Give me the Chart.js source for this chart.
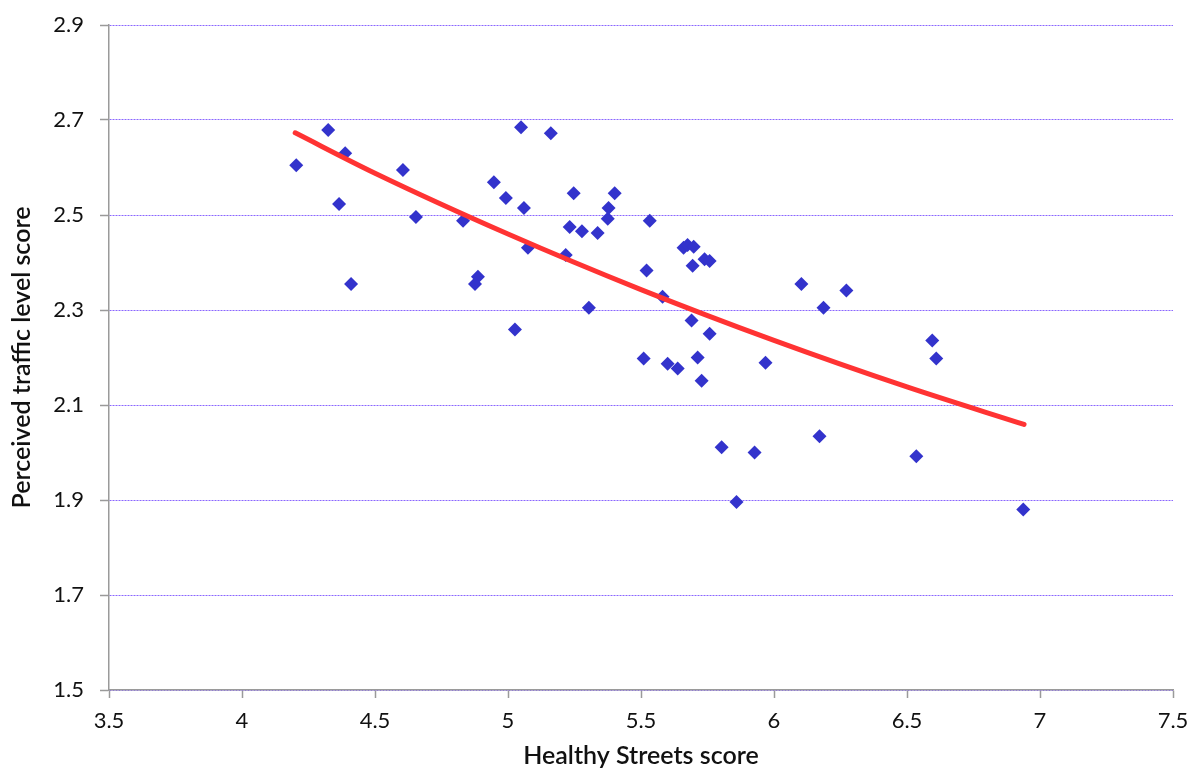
<!DOCTYPE html>
<html>
<head>
<meta charset="utf-8">
<script src="https://cdn.jsdelivr.net/npm/chart.js@4/dist/chart.umd.min.js"></script>
<style>
  body { margin: 0; background: #fff; }
  #wrap { width: 1192px; height: 771px; }
</style>
</head>
<body>
<div id="wrap"><canvas id="chart" width="1192" height="771"></canvas></div>
<script>
// Healthy Streets score (x) vs perceived traffic level score (y)
const streetScores = [
  4.204, 4.324, 4.388, 4.365, 4.410, 4.605, 4.654, 4.831, 4.947, 4.887,
  4.876, 4.992, 5.049, 5.060, 5.075, 5.026, 5.161, 5.217, 5.232, 5.247,
  5.278, 5.304, 5.337, 5.375, 5.378, 5.401, 5.533, 5.521, 5.510, 5.581,
  5.600, 5.638, 5.660, 5.675, 5.698, 5.694, 5.690, 5.713, 5.728, 5.739,
  5.758, 5.758, 5.803, 5.859, 5.927, 5.968, 6.103, 6.171, 6.186, 6.272,
  6.595, 6.610, 6.535, 6.937
];
const trafficScores = [
  2.605, 2.679, 2.630, 2.523, 2.355, 2.595, 2.496, 2.488, 2.569, 2.370,
  2.355, 2.536, 2.685, 2.515, 2.431, 2.259, 2.672, 2.416, 2.475, 2.546,
  2.466, 2.305, 2.462, 2.492, 2.515, 2.546, 2.488, 2.383, 2.198, 2.328,
  2.187, 2.177, 2.431, 2.437, 2.433, 2.393, 2.278, 2.200, 2.151, 2.407,
  2.403, 2.250, 2.011, 1.896, 2.000, 2.189, 2.355, 2.034, 2.305, 2.341,
  2.236, 2.198, 1.992, 1.880
];

// trendline
const trendX = [4.2, 4.5, 5.0, 5.5, 6.0, 6.5, 6.94];
const trendY = [2.673, 2.588, 2.460, 2.343, 2.236, 2.138, 2.059];

const xTicks = [3.5, 4, 4.5, 5, 5.5, 6, 6.5, 7, 7.5];
const yTicks = [1.5, 1.7, 1.9, 2.1, 2.3, 2.5, 2.7, 2.9];

const FONT = 'Lato, "Open Sans", sans-serif';

const points = streetScores.map((x, i) => ({ x: x, y: trafficScores[i] }));
const trend = trendX.map((x, i) => ({ x: x, y: trendY[i] }));

new Chart(document.getElementById('chart'), {
  type: 'scatter',
  data: {
    datasets: [
      {
        label: 'Areas',
        data: points,
        pointStyle: 'rectRot',
        pointRadius: 7,
        pointHoverRadius: 7,
        backgroundColor: '#3333cc',
        borderColor: '#3333cc',
        borderWidth: 0,
        order: 1
      },
      {
        label: 'Trend',
        type: 'line',
        data: trend,
        showLine: true,
        pointRadius: 0,
        borderColor: '#ff3333',
        borderWidth: 5,
        borderCapStyle: 'round',
        cubicInterpolationMode: 'monotone',
        fill: false,
        order: 0
      }
    ]
  },
  options: {
    responsive: false,
    animation: false,
    layout: { padding: { left: 0, right: 19, top: 25, bottom: 0 } },
    plugins: {
      legend: { display: false },
      tooltip: { enabled: false }
    },
    scales: {
      x: {
        type: 'linear',
        min: 3.5,
        max: 7.5,
        afterBuildTicks: axis => { axis.ticks = xTicks.map(v => ({ value: v })); },
        afterFit: axis => {
          axis.height = 81;
          axis.paddingLeft = 0;
          axis.paddingRight = 0;
        },
        border: { display: true, color: '#9a9a9a', width: 1.5 },
        grid: {
          drawOnChartArea: false,
          drawTicks: true,
          tickLength: 8,
          tickColor: '#9a9a9a',
          tickWidth: 1.5
        },
        ticks: {
          color: '#111',
          padding: 10,
          font: { family: FONT, size: 22 },
          callback: v => String(v)
        },
        title: {
          display: true,
          text: 'Healthy Streets score',
          color: '#111',
          font: { family: FONT, size: 25, weight: '600' },
          padding: { top: 0, bottom: 0 }
        }
      },
      y: {
        type: 'linear',
        min: 1.5,
        max: 2.9,
        afterBuildTicks: axis => { axis.ticks = yTicks.map(v => ({ value: v })); },
        afterFit: axis => {
          axis.width = 109;
          axis.paddingTop = 0;
          axis.paddingBottom = 0;
        },
        border: { display: true, color: '#9a9a9a', width: 1.5, dash: [2, 1] },
        grid: {
          color: '#8a66ff',
          lineWidth: 1,
          drawTicks: true,
          tickLength: 9,
          tickColor: '#9a9a9a',
          tickWidth: 1.5,
          tickBorderDash: []
        },
        ticks: {
          color: '#111',
          padding: 16,
          font: { family: FONT, size: 22 },
          callback: v => v.toFixed(1)
        },
        title: {
          display: true,
          text: 'Perceived traffic level score',
          color: '#111',
          font: { family: FONT, size: 25, weight: '600' },
          padding: { top: 7, bottom: 0 }
        }
      }
    }
  }
});
</script>
</body>
</html>
